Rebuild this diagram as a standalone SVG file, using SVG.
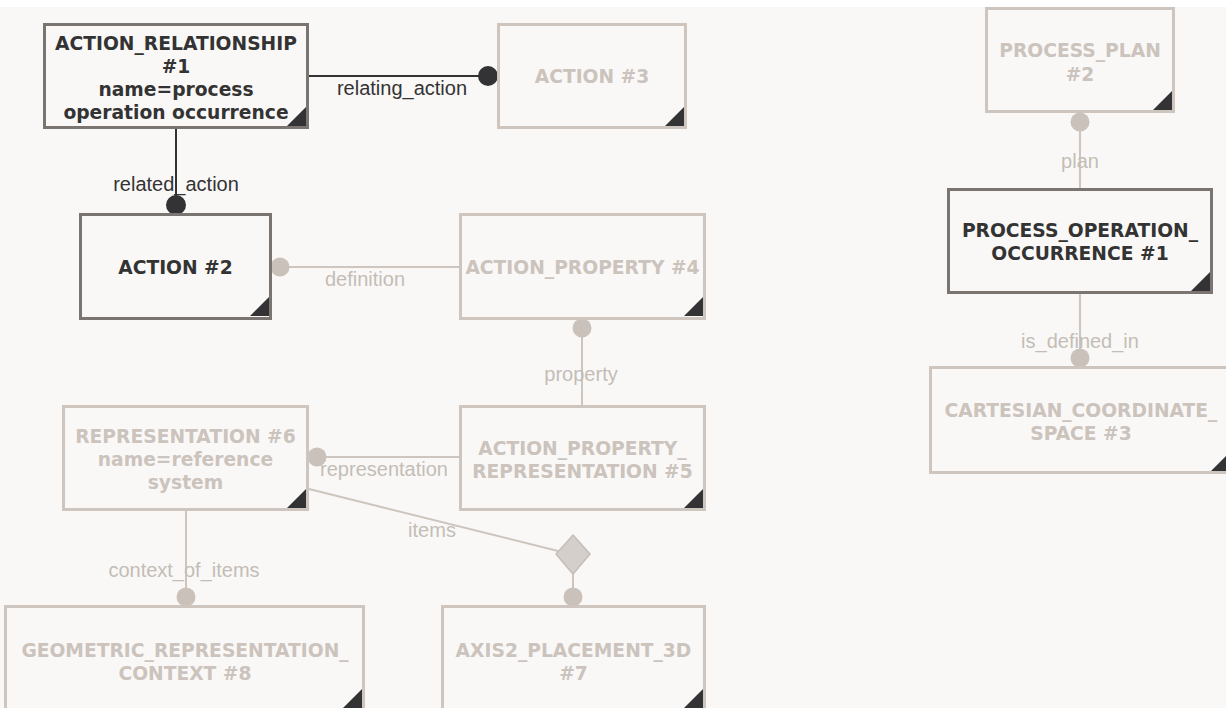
<svg xmlns="http://www.w3.org/2000/svg" width="1226" height="708" viewBox="0 0 1226 708">
<defs>
<style>
.bg{fill:#f9f8f7}
.box{fill:#f9f8f7;stroke-width:3}
.dk{stroke:#7a7571}
.lt{stroke:#cdc5be}
.tri{fill:#333336}
.nt{font-family:"DejaVu Sans",Verdana,sans-serif;font-weight:bold;font-size:18.7px;text-anchor:middle}
.ntd{fill:#333333}
.ntl{fill:#cbc3bc}
.lbl{font-family:"Liberation Sans",Arial,sans-serif;font-size:20px;text-anchor:middle}
.lbd{fill:#333333}
.lbl2{fill:#c4bdb6}
.cd{stroke:#333333;stroke-width:2;fill:none}
.cl{stroke:#cdc5be;stroke-width:2;fill:none}
.dotd{fill:#333336}
.dotl{fill:#c9c1ba}
</style>
</defs>
<rect x="0" y="0" width="1226" height="708" fill="#ffffff"/>
<rect class="bg" x="0" y="7" width="1226" height="701"/>

<g id="connectors">
<line class="cd" x1="309" y1="76" x2="488" y2="76"/>
<circle class="dotd" cx="488" cy="76" r="10"/>
<line class="cd" x1="176" y1="129" x2="176" y2="205"/>
<circle class="dotd" cx="176" cy="205" r="10"/>
<line class="cl" x1="279" y1="267" x2="459" y2="267"/>
<circle class="dotl" cx="280" cy="267" r="9.5"/>
<line class="cl" x1="582" y1="328" x2="582" y2="405"/>
<circle class="dotl" cx="582" cy="328" r="9.5"/>
<line class="cl" x1="317" y1="457" x2="459" y2="457"/>
<circle class="dotl" cx="317" cy="457" r="9.5"/>
<line class="cl" x1="186" y1="511" x2="186" y2="597"/>
<circle class="dotl" cx="186" cy="597" r="9.5"/>
<line class="cl" x1="309" y1="489" x2="558" y2="551"/>
<line class="cl" x1="573" y1="574" x2="573" y2="597"/>
<polygon points="573,535 590,554 573,574 556,554" fill="#d4cfca" stroke="#c6beb7" stroke-width="1.5"/>
<circle class="dotl" cx="573" cy="597" r="9.5"/>
<line class="cl" x1="1080" y1="113" x2="1080" y2="188"/>
<circle class="dotl" cx="1080" cy="122" r="9.5"/>
<line class="cl" x1="1080" y1="294" x2="1080" y2="358"/>
<circle class="dotl" cx="1080" cy="358" r="9.5"/>
<text class="lbl lbd" x="402" y="95">relating_action</text>
<text class="lbl lbd" x="176" y="191">related_action</text>
<text class="lbl lbl2" x="365" y="286">definition</text>
<text class="lbl lbl2" x="581" y="381">property</text>
<text class="lbl lbl2" x="384" y="476">representation</text>
<text class="lbl lbl2" x="432" y="537">items</text>
<text class="lbl lbl2" x="184" y="577">context_of_items</text>
<text class="lbl lbl2" x="1080" y="168">plan</text>
<text class="lbl lbl2" x="1080" y="348">is_defined_in</text>
</g>

<g id="n_action_relationship_1">
<rect class="box dk" x="44.5" y="24.5" width="263" height="103"/>
<polygon class="tri" points="306,107 306,126 287,126"/>
<text class="nt ntd" x="176" y="50">ACTION_RELATIONSHIP</text>
<text class="nt ntd" x="176" y="73">#1</text>
<text class="nt ntd" x="176" y="96">name=process</text>
<text class="nt ntd" x="176" y="119">operation occurrence</text>
</g>

<g id="n_action_3">
<rect class="box lt" x="498.5" y="24.5" width="187" height="103"/>
<polygon class="tri" points="684,107 684,126 665,126"/>
<text class="nt ntl" x="592" y="83">ACTION #3</text>
</g>

<g id="n_action_2">
<rect class="box dk" x="80.5" y="214.5" width="190" height="104"/>
<polygon class="tri" points="269,297 269,316 250,316"/>
<text class="nt ntd" x="175.5" y="274">ACTION #2</text>
</g>

<g id="n_action_property_4">
<rect class="box lt" x="460.5" y="214.5" width="244" height="104"/>
<polygon class="tri" points="703,297 703,316 684,316"/>
<text class="nt ntl" x="582.5" y="274">ACTION_PROPERTY #4</text>
</g>

<g id="n_action_property_representation_5">
<rect class="box lt" x="460.5" y="406.5" width="244" height="103"/>
<polygon class="tri" points="703,489 703,508 684,508"/>
<text class="nt ntl" x="582.5" y="455">ACTION_PROPERTY_</text>
<text class="nt ntl" x="582.5" y="478">REPRESENTATION #5</text>
</g>

<g id="n_representation_6">
<rect class="box lt" x="63.5" y="406.5" width="244" height="103"/>
<polygon class="tri" points="306,489 306,508 287,508"/>
<text class="nt ntl" x="185.5" y="443">REPRESENTATION #6</text>
<text class="nt ntl" x="185.5" y="466">name=reference</text>
<text class="nt ntl" x="185.5" y="489">system</text>
</g>

<g id="n_geometric_representation_context_8">
<rect class="box lt" x="5.5" y="606.5" width="358" height="104"/>
<polygon class="tri" points="362,689 362,708 343,708"/>
<text class="nt ntl" x="185" y="657">GEOMETRIC_REPRESENTATION_</text>
<text class="nt ntl" x="185" y="680">CONTEXT #8</text>
</g>

<g id="n_axis2_placement_3d_7">
<rect class="box lt" x="442.5" y="606.5" width="262" height="104"/>
<polygon class="tri" points="703,689 703,708 684,708"/>
<text class="nt ntl" x="573.5" y="657">AXIS2_PLACEMENT_3D</text>
<text class="nt ntl" x="573.5" y="680">#7</text>
</g>

<g id="n_process_plan_2">
<rect class="box lt" x="986.5" y="8.5" width="187" height="103"/>
<polygon class="tri" points="1172,91 1172,110 1153,110"/>
<text class="nt ntl" x="1080" y="57">PROCESS_PLAN</text>
<text class="nt ntl" x="1080" y="81">#2</text>
</g>

<g id="n_process_operation_occurrence_1">
<rect class="box dk" x="948.5" y="189.5" width="263" height="103"/>
<polygon class="tri" points="1210,272 1210,291 1191,291"/>
<text class="nt ntd" x="1080" y="237">PROCESS_OPERATION_</text>
<text class="nt ntd" x="1080" y="260">OCCURRENCE #1</text>
</g>

<g id="n_cartesian_coordinate_space_3">
<rect class="box lt" x="930.5" y="367.5" width="301" height="105"/>
<polygon class="tri" points="1230,452 1230,471 1211,471"/>
<text class="nt ntl" x="1081" y="417">CARTESIAN_COORDINATE_</text>
<text class="nt ntl" x="1081" y="440">SPACE #3</text>
</g>
</svg>
